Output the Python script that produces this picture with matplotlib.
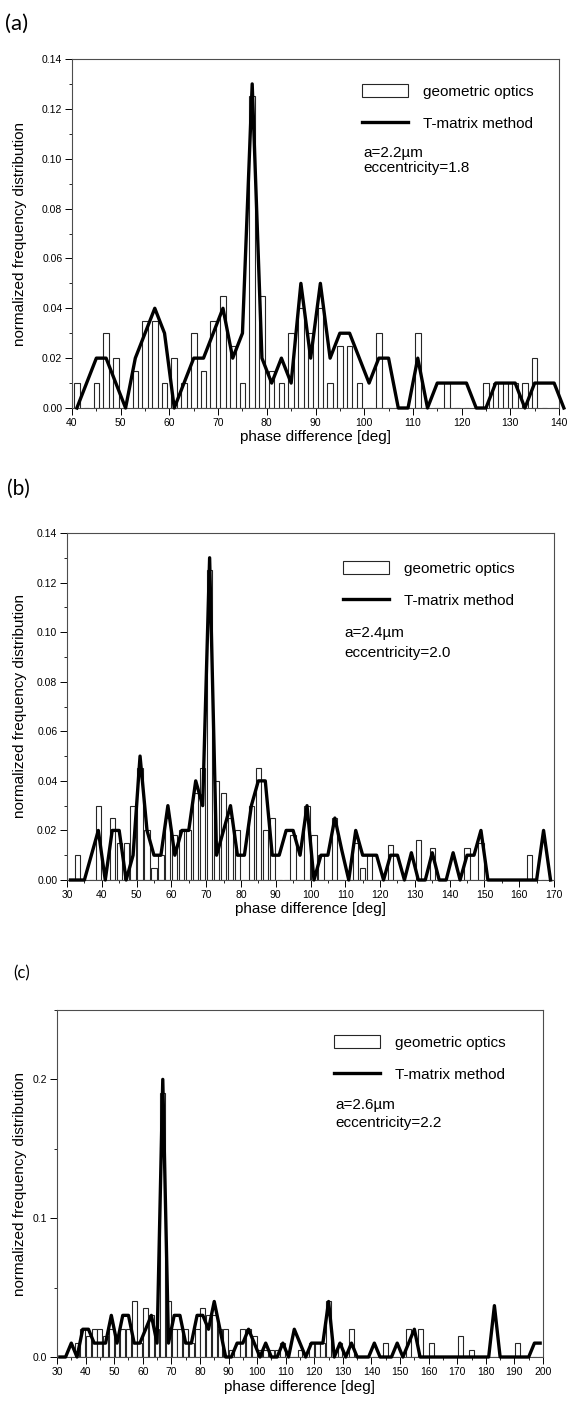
import matplotlib
matplotlib.use('Agg')
import matplotlib.pyplot as plt
from matplotlib.ticker import MultipleLocator, FormatStrFormatter
from matplotlib.patches import Patch
from matplotlib.lines import Line2D

plt.rcParams['font.family'] = ['Liberation Sans', 'DejaVu Sans']

# ---- panel (a): a=2.2um, eccentricity=1.8
xa = list(range(41, 142, 2))
line_a = [0, 0.01, 0.02, 0.02, 0.01, 0, 0.02, 0.03, 0.04, 0.03,
          0, 0.01, 0.02, 0.02, 0.03, 0.04, 0.02, 0.03, 0.13, 0.02,
          0.01, 0.02, 0.01, 0.05, 0.02, 0.05, 0.02, 0.03, 0.03, 0.02,
          0.01, 0.02, 0.02, 0, 0, 0.02, 0, 0.01, 0.01, 0.01,
          0.01, 0, 0, 0.01, 0.01, 0.01, 0, 0.01, 0.01, 0.01, 0]
bar_a = [0.01, 0, 0.01, 0.03, 0.02, 0, 0.015, 0.035, 0.035, 0.01,
         0.02, 0.01, 0.03, 0.015, 0.035, 0.045, 0.025, 0.01, 0.125, 0.045,
         0.015, 0.01, 0.03, 0.04, 0.03, 0.04, 0.01, 0.025, 0.025, 0.01,
         0, 0.03, 0, 0, 0, 0.03, 0, 0, 0.01, 0,
         0, 0, 0.01, 0.01, 0.01, 0.01, 0.01, 0.02, 0, 0, 0]

# ---- panel (b): a=2.4um, eccentricity=2.0
xb = list(range(31, 170, 2))
line_b = [0, 0, 0, 0.01, 0.02, 0, 0.02, 0.02, 0, 0.01,
          0.05, 0.02, 0.01, 0.01, 0.03, 0.01, 0.02, 0.02, 0.04, 0.03,
          0.13, 0.01, 0.02, 0.03, 0.01, 0.01, 0.03, 0.04, 0.04, 0.01,
          0.01, 0.02, 0.02, 0.01, 0.03, 0, 0.01, 0.01, 0.025, 0.012,
          0, 0.02, 0.01, 0.01, 0.01, 0, 0.01, 0.01, 0, 0.011,
          0, 0, 0.011, 0, 0, 0.011, 0, 0.01, 0.01, 0.02,
          0, 0, 0, 0, 0, 0, 0, 0, 0.02, 0]
bar_b = [0, 0.01, 0, 0, 0.03, 0, 0.025, 0.015, 0.015, 0.03,
         0.045, 0.02, 0.005, 0.01, 0.025, 0.018, 0.02, 0.02, 0.035, 0.045,
         0.125, 0.04, 0.035, 0.025, 0.02, 0, 0.03, 0.045, 0.02, 0.025,
         0, 0, 0.018, 0, 0.03, 0.018, 0.01, 0, 0.025, 0,
         0, 0.015, 0.005, 0.01, 0, 0, 0.014, 0, 0, 0,
         0.016, 0, 0.013, 0, 0, 0, 0, 0.013, 0, 0.015,
         0, 0, 0, 0, 0, 0, 0.01, 0, 0, 0]

# ---- panel (c): a=2.6um, eccentricity=2.2
xc = list(range(31, 200, 2))
line_c = [0, 0, 0.01, 0, 0.02, 0.02, 0.01, 0.01, 0.01, 0.03,
          0.01, 0.03, 0.03, 0.01, 0.01, 0.02, 0.03, 0.01, 0.2, 0.01,
          0.03, 0.03, 0.01, 0.01, 0.03, 0.03, 0.02, 0.04, 0.02, 0,
          0, 0.01, 0.01, 0.02, 0.01, 0, 0.01, 0, 0, 0.01,
          0, 0.02, 0.01, 0, 0.01, 0.01, 0.01, 0.04, 0, 0.01,
          0, 0.01, 0, 0, 0, 0.01, 0, 0, 0, 0.01,
          0, 0.01, 0.02, 0, 0, 0, 0, 0, 0, 0,
          0, 0, 0, 0, 0, 0, 0.037, 0, 0, 0,
          0, 0, 0, 0.01, 0.01]
bar_c = [0, 0, 0, 0.01, 0.02, 0.015, 0.02, 0.02, 0.015, 0.02,
         0.015, 0.02, 0.02, 0.04, 0.01, 0.035, 0.03, 0.02, 0.19, 0.04,
         0.02, 0.02, 0.02, 0.01, 0.02, 0.035, 0.03, 0.03, 0.02, 0.02,
         0.005, 0, 0.02, 0.02, 0.015, 0.005, 0.005, 0.005, 0.005, 0.01,
         0, 0, 0.005, 0, 0.01, 0.01, 0.01, 0.04, 0, 0.01,
         0, 0.02, 0, 0, 0, 0, 0, 0.01, 0, 0,
         0, 0.02, 0, 0.02, 0, 0.01, 0, 0, 0, 0,
         0.015, 0, 0.005, 0, 0, 0, 0, 0, 0, 0,
         0.01, 0, 0, 0, 0]

W, H = 568, 1401
fig = plt.figure(figsize=(W / 100, H / 100), dpi=100)

panels = [
    # tag, x, bars, line, rect(px: l, r, top, bottom), xlim, ylim, ymaj, ymin, fmt, bar width, texts
    ('(a)', xa, bar_a, line_a, (72, 559, 59, 408), (40, 140), (0, 0.14), 0.02, 0.01, '%.2f', 1.15,
     ['a=2.2µm', 'eccentricity=1.8'], (5, 24, 16), (362, 86), (363, 153, 168)),
    ('(b)', xb, bar_b, line_b, (67, 554, 533, 880), (30, 170), (0, 0.14), 0.02, 0.01, '%.2f', 1.5,
     ['a=2.4µm', 'eccentricity=2.0'], (7, 489, 15), (343, 563), (344, 633, 653)),
    ('(c)', xc, bar_c, line_c, (57, 543, 1010, 1357), (30, 200), (0, 0.25), 0.1, 0.05, '%.1f', 1.7,
     ['a=2.6µm', 'eccentricity=2.2'], (13, 973, 12), (334, 1037), (335, 1105, 1123)),
]

for (tag, x, bars, line, rect, xlim, ylim, ymaj, ymin, fmt, bw,
     texts, tagpos, legpos, txtpos) in panels:
    l, r, t, b = rect
    ax = fig.add_axes([l / W, 1 - b / H, (r - l) / W, (b - t) / H])
    ax.bar(x, bars, width=bw, facecolor='white', edgecolor='0.15', linewidth=0.8, zorder=2)
    ax.plot(x, line, color='black', linewidth=2.4, zorder=3, clip_on=False)
    ax.set_xlim(*xlim)
    ax.set_ylim(*ylim)
    ax.xaxis.set_major_locator(MultipleLocator(10))
    ax.xaxis.set_minor_locator(MultipleLocator(5))
    ax.yaxis.set_major_locator(MultipleLocator(ymaj))
    ax.yaxis.set_minor_locator(MultipleLocator(ymin))
    ax.yaxis.set_major_formatter(FormatStrFormatter(fmt))
    ax.tick_params(which='major', direction='out', length=5, width=0.7, labelsize=7.5, pad=2)
    ax.tick_params(which='minor', direction='out', length=2.5, width=0.6)
    for s in ax.spines.values():
        s.set_color('0.3')
        s.set_linewidth(0.8)
    ax.set_xlabel('phase difference [deg]', fontsize=11, labelpad=2)
    ax.set_ylabel('normalized frequency distribution', fontsize=11)
    ax.yaxis.set_label_coords((27 - l) / (r - l), 0.5)

    handles = [Patch(facecolor='white', edgecolor='0.15', linewidth=0.8),
               Line2D([], [], color='black', linewidth=2.4)]
    ax.legend(handles, ['geometric optics', 'T-matrix method'], frameon=False, fontsize=11,
              loc='upper left', bbox_to_anchor=((legpos[0] - l) / (r - l), (b - legpos[1] + 2) / (b - t)),
              borderpad=0, borderaxespad=0, handlelength=3.0, handleheight=0.9,
              handletextpad=1.0, labelspacing=1.15)
    for s, yy in zip(texts, txtpos[1:]):
        ax.text((txtpos[0] - l) / (r - l), (b - yy) / (b - t), s, transform=ax.transAxes,
                fontsize=11, ha='left', va='center')

    fig.text(tagpos[0] / W, 1 - tagpos[1] / H, tag, fontsize=tagpos[2],
             family=['Lato', 'DejaVu Sans'], ha='left', va='center')

fig.savefig('out.png', dpi=100)
